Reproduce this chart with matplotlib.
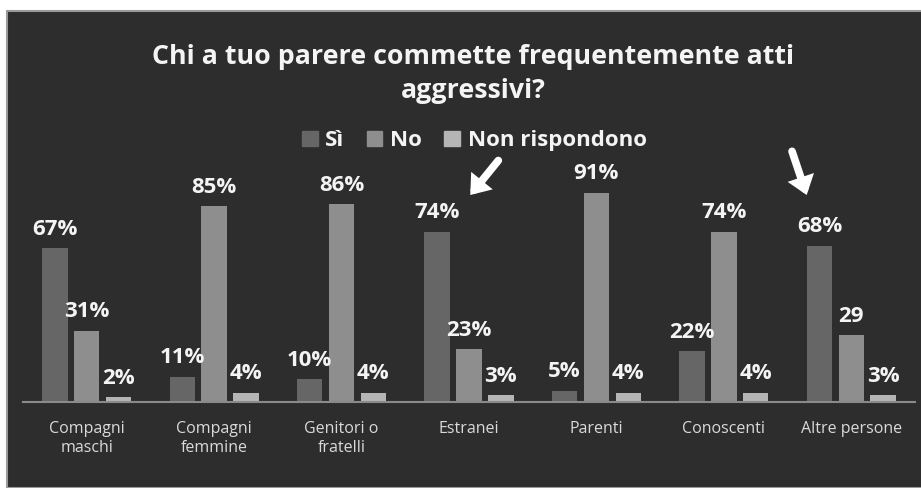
import matplotlib.pyplot as plt
from matplotlib.patches import Patch, Rectangle
import numpy as np

categories = ['Compagni\nmaschi', 'Compagni\nfemmine', 'Genitori o\nfratelli',
              'Estranei', 'Parenti', 'Conoscenti', 'Altre persone']
si = [67, 11, 10, 74, 5, 22, 68]
no = [31, 85, 86, 23, 91, 74, 29]
non_risp = [2, 4, 4, 3, 4, 4, 3]
series_names = ['Sì', 'No', 'Non rispondono']
# the "No" label of the last group was printed without the percent sign
no_labels = ['31%', '85%', '86%', '23%', '91%', '74%', '29']
# groups flagged with an arrow (index into categories)
highlighted = [3, 6]

bg = '#2d2d2d'
colors = ['#666666', '#8e8e8e', '#b5b5b5']
plt.rcParams['font.family'] = ['Open Sans', 'DejaVu Sans']

fig = plt.figure(figsize=(9.21, 4.88), dpi=100)
fig.patch.set_facecolor('white')
fig.patches.append(Rectangle((7 / 921, 0), 1, 477 / 488, transform=fig.transFigure,
                             facecolor=bg, edgecolor='#9a9a9a', lw=1.5, zorder=-1))

ax = fig.add_axes([23 / 921, 86 / 488, 892 / 921, 230 / 488], zorder=1)
ax.set_facecolor('none')

x = np.arange(len(categories))
w = 0.2
step = 0.25
series = [si, no, non_risp]
for k, (vals, name) in enumerate(zip(series, series_names)):
    pos = x + (k - 1) * step
    ax.bar(pos, vals, width=w, color=colors[k], label=name, zorder=2)
    labels = no_labels if k == 1 else [f'{v}%' for v in vals]
    for px, v, t in zip(pos, vals, labels):
        ax.annotate(t, (px, v), xytext=(0, 6), textcoords='offset points',
                    ha='center', va='bottom', color='#f4f4f4',
                    fontsize=16, fontweight='bold', zorder=3)

# arrows pointing at the "Sì" bars of the highlighted groups:
# (head dx, head dy), (tail dx, tail dy) relative to the bar top
arrow_geom = {3: ((0.26, 16), (0.48, 31)), 6: ((-0.10, 22), (-0.215, 41))}
for i in highlighted:
    v = si[i]
    (hx, hy), (tx, ty) = arrow_geom[i]
    ax.annotate('', xy=(x[i] - step + hx, v + hy),
                xytext=(x[i] - step + tx, v + ty),
                arrowprops=dict(arrowstyle='-|>,head_length=0.6,head_width=0.45',
                                color='white', lw=5.5, shrinkA=0, shrinkB=0,
                                joinstyle='miter'),
                annotation_clip=False)

ax.set_xlim(-0.5, len(categories) - 0.5)
ax.set_ylim(0, 100)
ax.set_yticks([])
ax.set_xticks(x)
ax.set_xticklabels(categories, color='#dadada', fontsize=11.5)
ax.tick_params(axis='x', length=0, pad=14)
for s in ['left', 'right', 'top']:
    ax.spines[s].set_visible(False)
ax.spines['bottom'].set_color('#8a8a8a')
ax.spines['bottom'].set_linewidth(1.5)

fig.text(0.514, 0.848, 'Chi a tuo parere commette frequentemente atti\naggressivi?',
         ha='center', va='center', color='#f4f4f4', fontsize=19.3,
         fontweight='bold', linespacing=1.38)

handles = [Patch(color=c) for c in colors]
fig.legend(handles, series_names, loc='center', bbox_to_anchor=(0.515, 0.712),
           ncol=3, frameon=False, handlelength=0.7, handleheight=0.65,
           handletextpad=0.35, columnspacing=1.0,
           prop={'weight': 'bold', 'size': 16}, labelcolor='#f4f4f4')

fig.savefig('out.png', dpi=100, facecolor=fig.get_facecolor())
